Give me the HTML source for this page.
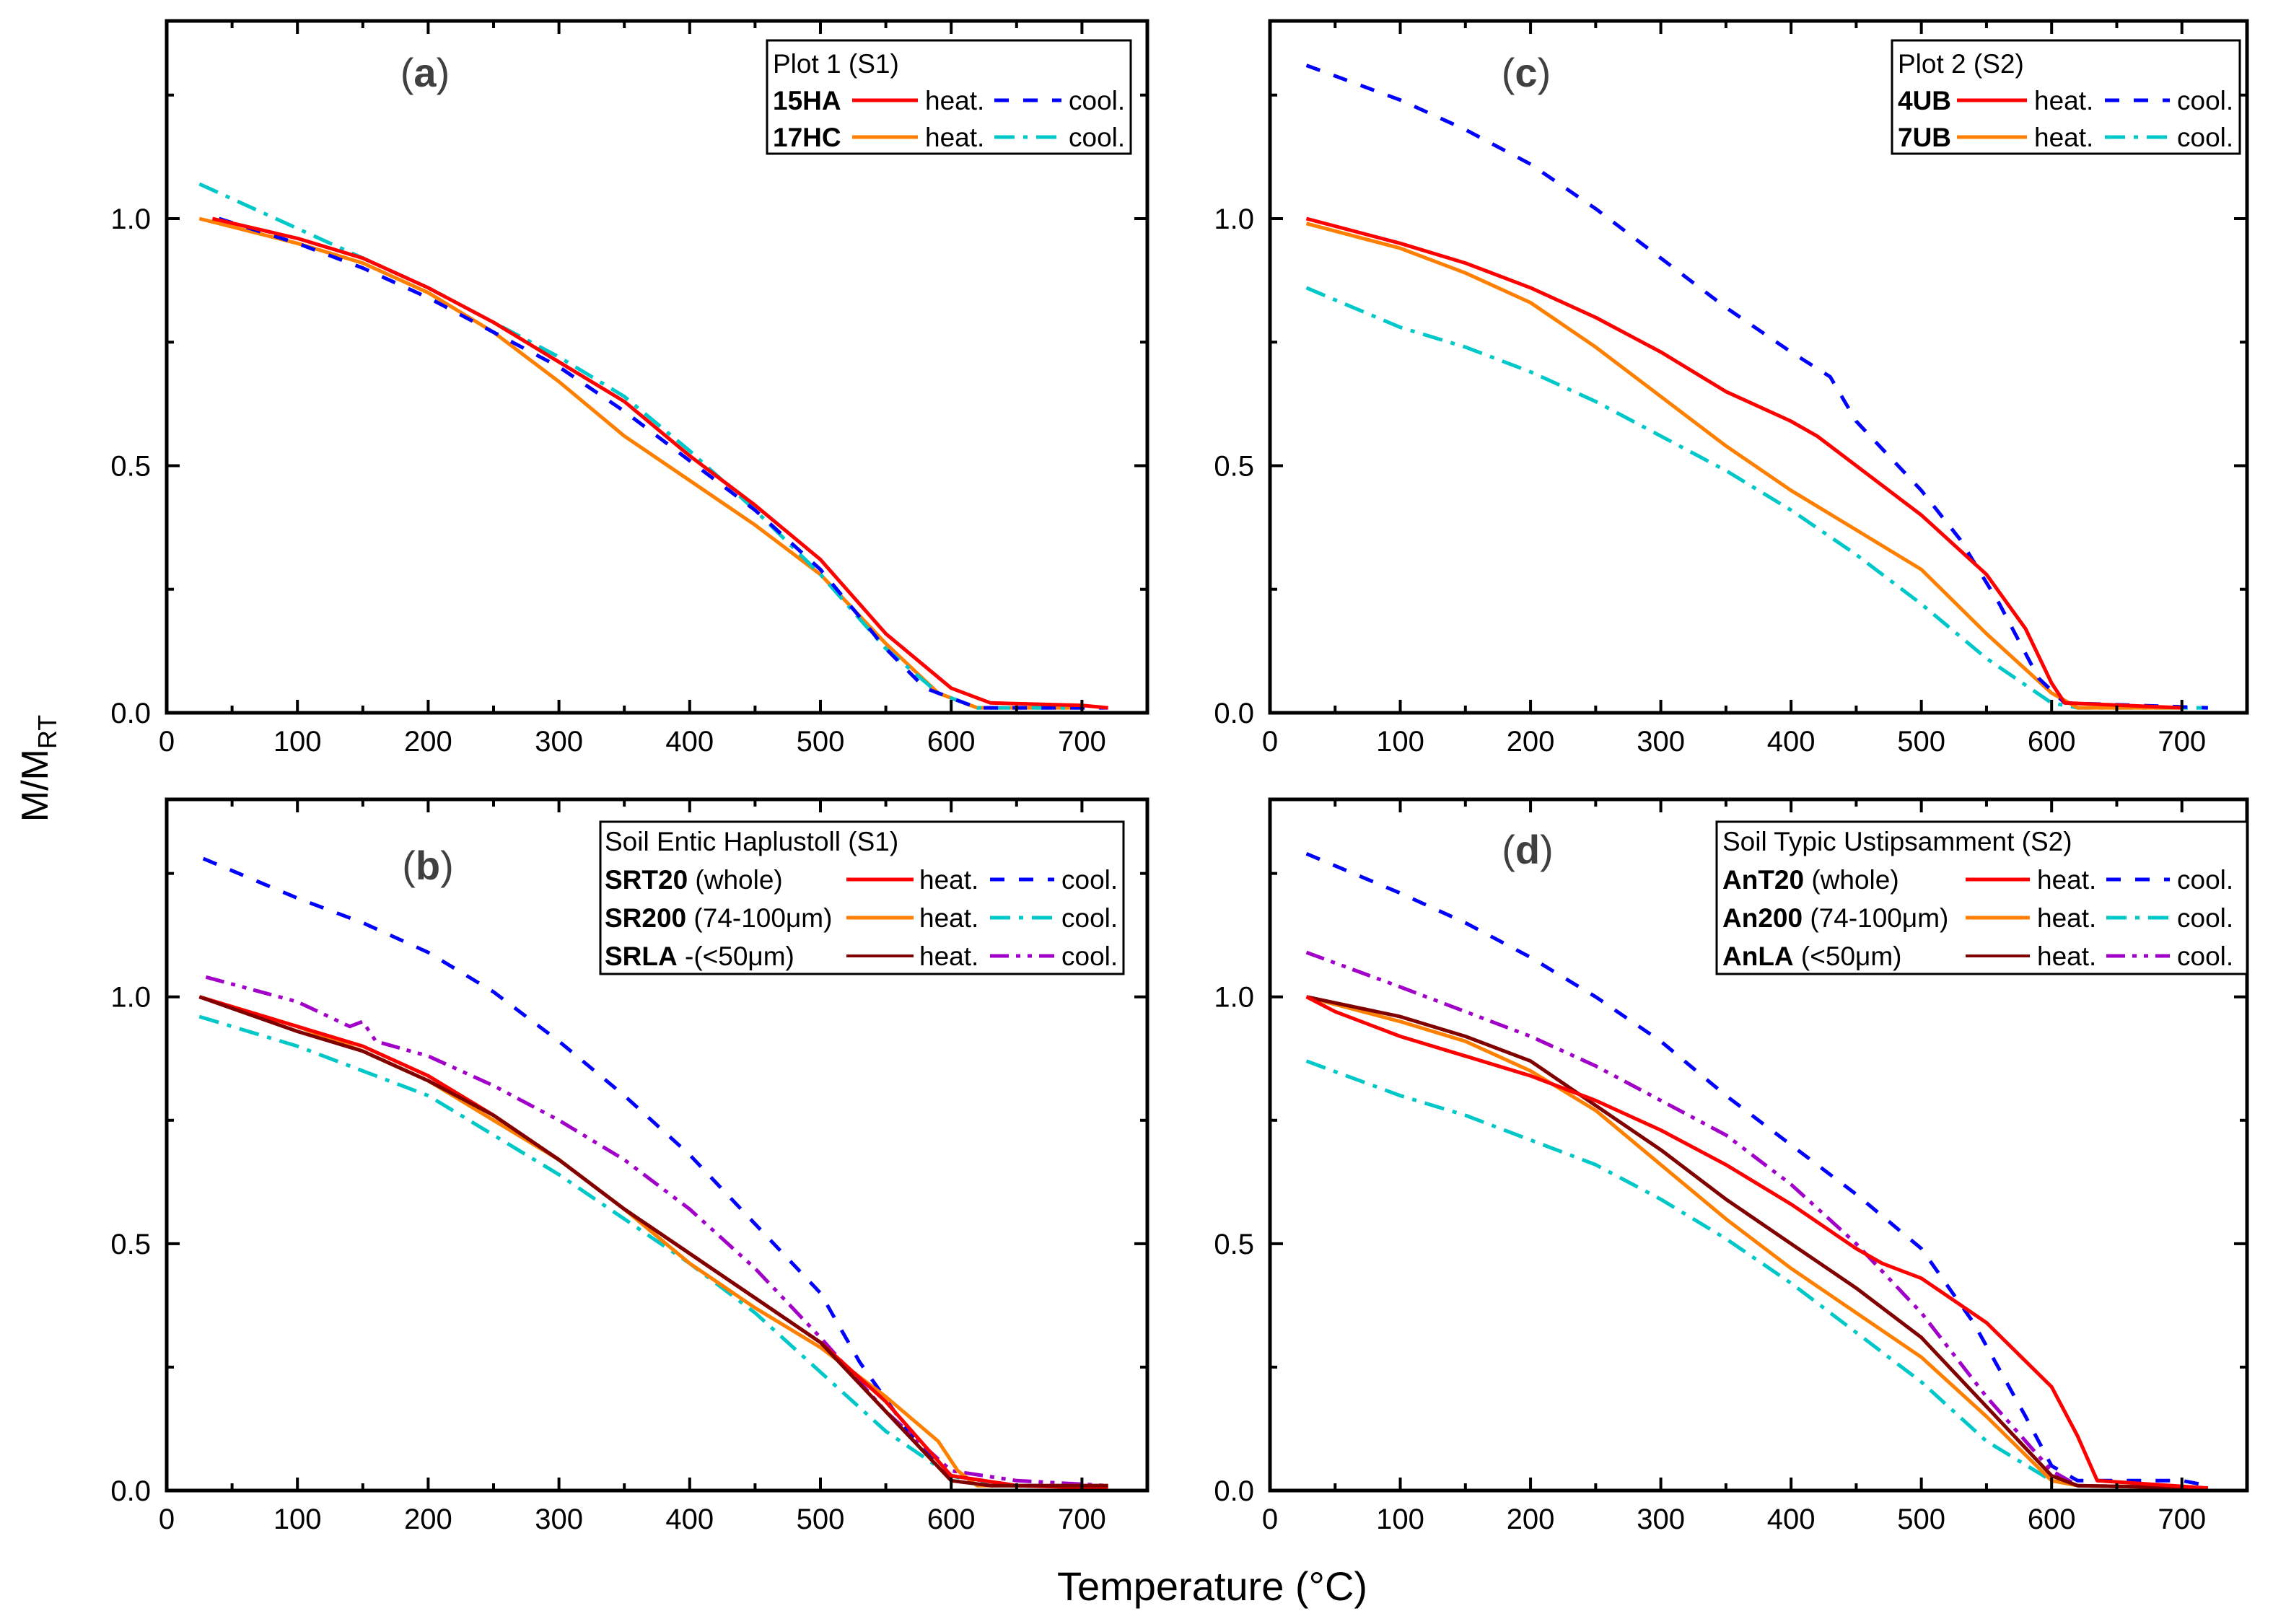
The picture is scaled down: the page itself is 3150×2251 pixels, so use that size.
<!DOCTYPE html>
<html><head><meta charset="utf-8"><style>
html,body{margin:0;padding:0;background:#fff;}
svg{display:block;font-family:"Liberation Sans",sans-serif;}
</style></head><body>
<svg id="chart" width="3150" height="2251" viewBox="0 0 3150 2251" xmlns="http://www.w3.org/2000/svg"></svg>
<script>
// ---- data arrays: [temperature °C, M/M_RT] ----
const xTicks = [0,100,200,300,400,500,600,700];
const yTicks = [0.0,0.5,1.0];
const yTickLabels = ["0.0","0.5","1.0"];
// panel a
const a15HAheat = [[35,1.0],[100,0.96],[150,0.92],[200,0.86],[250,0.79],[300,0.71],[350,0.63],[400,0.52],[450,0.42],[500,0.31],[550,0.16],[600,0.05],[630,0.02],[700,0.015],[720,0.01]];
const a15HAcool = [[40,1.0],[100,0.95],[150,0.90],[200,0.84],[250,0.77],[300,0.70],[350,0.61],[400,0.51],[450,0.41],[500,0.29],[550,0.13],[580,0.05],[620,0.01],[720,0.01]];
const a17HCheat = [[25,1.0],[100,0.95],[150,0.91],[200,0.85],[250,0.77],[300,0.67],[350,0.56],[400,0.47],[450,0.38],[500,0.28],[550,0.14],[590,0.04],[620,0.01],[700,0.01]];
const a17HCcool = [[25,1.07],[100,0.98],[150,0.92],[200,0.86],[250,0.79],[300,0.72],[350,0.64],[400,0.53],[450,0.41],[500,0.28],[550,0.13],[590,0.04],[620,0.01],[700,0.01]];
// panel c
const c4UBheat = [[28,1.0],[100,0.95],[150,0.91],[200,0.86],[250,0.80],[300,0.73],[350,0.65],[400,0.59],[420,0.56],[450,0.50],[500,0.40],[550,0.28],[580,0.17],[600,0.06],[610,0.02],[700,0.01]];
const c4UBcool = [[28,1.31],[100,1.24],[150,1.18],[200,1.11],[250,1.02],[300,0.92],[350,0.82],[400,0.73],[430,0.68],[450,0.59],[500,0.45],[530,0.35],[560,0.22],[590,0.07],[610,0.02],[720,0.01]];
const c7UBheat = [[28,0.99],[100,0.94],[150,0.89],[200,0.83],[250,0.74],[300,0.64],[350,0.54],[400,0.45],[450,0.37],[500,0.29],[550,0.16],[600,0.04],[620,0.01],[700,0.01]];
const c7UBcool = [[28,0.86],[100,0.78],[150,0.74],[200,0.69],[250,0.63],[300,0.56],[350,0.49],[400,0.41],[450,0.32],[500,0.22],[550,0.11],[600,0.02],[620,0.01],[720,0.01]];
// panel b
const bSRT20heat = [[25,1.0],[100,0.94],[150,0.90],[200,0.84],[250,0.76],[300,0.67],[350,0.57],[400,0.48],[450,0.39],[500,0.30],[550,0.18],[600,0.03],[650,0.01],[720,0.005]];
const bSRT20cool = [[28,1.28],[100,1.20],[150,1.15],[200,1.09],[250,1.01],[300,0.91],[350,0.80],[400,0.68],[450,0.54],[500,0.40],[530,0.26],[570,0.11],[600,0.03],[650,0.01],[720,0.01]];
const bSR200heat = [[25,1.0],[100,0.94],[150,0.89],[200,0.83],[250,0.75],[300,0.67],[350,0.57],[400,0.46],[450,0.37],[500,0.29],[550,0.19],[590,0.10],[605,0.04],[620,0.01],[720,0.01]];
const bSR200cool = [[25,0.96],[100,0.90],[150,0.85],[200,0.80],[250,0.72],[300,0.64],[350,0.55],[400,0.46],[450,0.36],[500,0.24],[550,0.12],[600,0.03],[630,0.01],[720,0.01]];
const bSRLAheat = [[25,1.0],[100,0.93],[150,0.89],[200,0.83],[250,0.76],[300,0.67],[350,0.57],[400,0.48],[450,0.39],[500,0.30],[550,0.16],[600,0.02],[630,0.01],[720,0.01]];
const bSRLAcool = [[30,1.04],[100,0.99],[140,0.94],[150,0.95],[160,0.91],[200,0.88],[250,0.82],[300,0.75],[350,0.67],[400,0.57],[450,0.45],[500,0.31],[550,0.16],[600,0.04],[650,0.02],[720,0.01]];
// panel d
const dAnT20heat = [[28,1.0],[50,0.97],[100,0.92],[150,0.88],[200,0.84],[250,0.79],[300,0.73],[350,0.66],[400,0.58],[450,0.49],[470,0.46],[500,0.43],[550,0.34],[600,0.21],[620,0.11],[635,0.02],[720,0.005]];
const dAnT20cool = [[28,1.29],[100,1.21],[150,1.15],[200,1.08],[250,1.00],[300,0.91],[350,0.80],[400,0.70],[450,0.60],[500,0.49],[540,0.34],[580,0.15],[600,0.05],[620,0.02],[700,0.02],[720,0.01]];
const dAn200heat = [[28,1.0],[100,0.95],[150,0.91],[200,0.85],[250,0.77],[300,0.66],[350,0.55],[400,0.45],[450,0.36],[500,0.27],[550,0.15],[600,0.02],[620,0.01],[720,0.005]];
const dAn200cool = [[28,0.87],[100,0.80],[150,0.76],[200,0.71],[250,0.66],[300,0.59],[350,0.51],[400,0.42],[450,0.32],[500,0.22],[550,0.10],[600,0.02],[620,0.01],[720,0.005]];
const dAnLAheat = [[28,1.0],[100,0.96],[150,0.92],[200,0.87],[250,0.78],[300,0.69],[350,0.59],[400,0.50],[450,0.41],[500,0.31],[550,0.17],[600,0.03],[620,0.01],[720,0.005]];
const dAnLAcool = [[28,1.09],[100,1.02],[150,0.97],[200,0.92],[250,0.86],[300,0.79],[350,0.72],[400,0.62],[450,0.50],[500,0.36],[550,0.19],[600,0.04],[620,0.01],[720,0.005]];

const NS="http://www.w3.org/2000/svg";
const svg=document.getElementById('chart');
function mk(tag,attrs,parent){const e=document.createElementNS(NS,tag);for(const k in attrs)e.setAttribute(k,attrs[k]);(parent||svg).appendChild(e);return e;}

const RED="#ff0000",BLUE="#0000ff",ORANGE="#ff8000",CYAN="#00c8c8",DRED="#800000",PURP="#a000c8";
const DASH="20 20",DASHDOT="28 12 6 12",DDD="26 10 6 10 6 10";

const panels=[
 {id:'a',x0:231,x1:1590,y0:29,y1:988,label:'(a)',lx:589,ly:120,
  series:[[a17HCheat,ORANGE,null],[a17HCcool,CYAN,DASHDOT],[a15HAcool,BLUE,DASH],[a15HAheat,RED,null]],
  legend:{bx:1063,by:56,bw:504,bh:157,title:'Plot 1 (S1)',rows:[['15HA','',RED,BLUE,DASH],['17HC','',ORANGE,CYAN,DASHDOT]],
   nx:1071,ty:88,dy:51,l1:[1181,1272],hx:1282,l2:[1378,1471],cx:1481}},
 {id:'c',x0:1760,x1:3114,y0:29,y1:988,label:'(c)',lx:2115,ly:120,
  series:[[c7UBcool,CYAN,DASHDOT],[c7UBheat,ORANGE,null],[c4UBcool,BLUE,DASH],[c4UBheat,RED,null]],
  legend:{bx:2622,by:56,bw:482,bh:157,title:'Plot 2 (S2)',rows:[['4UB','',RED,BLUE,DASH],['7UB','',ORANGE,CYAN,DASHDOT]],
   nx:2630,ty:88,dy:51,l1:[2712,2809],hx:2819,l2:[2917,3007],cx:3017}},
 {id:'b',x0:231,x1:1590,y0:1108,y1:2066,label:'(b)',lx:593,ly:1219,
  series:[[bSR200cool,CYAN,DASHDOT],[bSRT20cool,BLUE,DASH],[bSRLAcool,PURP,DDD],[bSR200heat,ORANGE,null],[bSRT20heat,RED,null],[bSRLAheat,DRED,null]],
  legend:{bx:832,by:1139,bw:725,bh:211,title:'Soil Entic Haplustoll (S1)',rows:[['SRT20',' (whole)',RED,BLUE,DASH],['SR200',' (74-100\u03bcm)',ORANGE,CYAN,DASHDOT],['SRLA',' -(<50\u03bcm)',DRED,PURP,DDD]],
   nx:838,ty:1166,dy:53,l1:[1173,1266],hx:1274,l2:[1372,1461],cx:1471}},
 {id:'d',x0:1760,x1:3114,y0:1108,y1:2066,label:'(d)',lx:2117,ly:1197,
  series:[[dAn200cool,CYAN,DASHDOT],[dAnT20cool,BLUE,DASH],[dAnLAcool,PURP,DDD],[dAn200heat,ORANGE,null],[dAnLAheat,DRED,null],[dAnT20heat,RED,null]],
  legend:{bx:2379,by:1139,bw:735,bh:211,title:'Soil Typic Ustipsamment (S2)',rows:[['AnT20',' (whole)',RED,BLUE,DASH],['An200',' (74-100\u03bcm)',ORANGE,CYAN,DASHDOT],['AnLA',' (<50\u03bcm)',DRED,PURP,DDD]],
   nx:2387,ty:1166,dy:53,l1:[2724,2813],hx:2823,l2:[2919,3007],cx:3017}}
];

panels.forEach(p=>{
  const g=mk('g',{});
  
  
  const sx=v=>p.x0+(v/750)*(p.x1-p.x0);
  const sy=v=>p.y1-(v/1.4)*(p.y1-p.y0);
  // series
  p.series.forEach((s,i)=>{
    const d=s[0].map((pt,j)=>(j?'L':'M')+sx(pt[0]).toFixed(1)+' '+sy(pt[1]).toFixed(1)).join(' ');
    const path=mk('path',{d:d,fill:'none',stroke:s[1],'stroke-width':5,'stroke-linejoin':'round'},g);
    if(s[2])path.setAttribute('stroke-dasharray',s[2]);
    
    
  });
  // frame
  const fr=mk('rect',{x:p.x0,y:p.y0,width:p.x1-p.x0,height:p.y1-p.y0,fill:'none',stroke:'#000','stroke-width':5},g);
  
  
  // x ticks
  for(let v=0;v<=750;v+=50){
    const X=sx(v),L=(v%100===0)?18:10;
    mk('line',{x1:X,y1:p.y1,x2:X,y2:p.y1-L,stroke:'#000','stroke-width':4},g);
    mk('line',{x1:X,y1:p.y0,x2:X,y2:p.y0+L,stroke:'#000','stroke-width':4},g);
  }
  xTicks.forEach(v=>{
    const t=mk('text',{x:sx(v),y:p.y1+53,'font-size':40,'text-anchor':'middle'},g);
    t.textContent=String(v);
    
    
  });
  for(let v=0;v<=1.4001;v+=0.25){
    const Y=sy(v),L=(Math.abs(v*2-Math.round(v*2))<1e-6)?18:10;
    mk('line',{x1:p.x0,y1:Y,x2:p.x0+L,y2:Y,stroke:'#000','stroke-width':4},g);
    mk('line',{x1:p.x1,y1:Y,x2:p.x1-L,y2:Y,stroke:'#000','stroke-width':4},g);
  }
  yTicks.forEach((v,i)=>{
    const t=mk('text',{x:p.x0-22,y:sy(v)+14,'font-size':40,'text-anchor':'end'},g);
    t.textContent=yTickLabels[i];
    
    
  });
  // panel label
  const pl=mk('text',{x:p.lx,y:p.ly,'font-size':56,'text-anchor':'middle',fill:'#404040'},g);
  pl.innerHTML='(<tspan font-weight="bold">'+p.id+'</tspan>)';
  
  
  // legend
  const L=p.legend;
  const lg=mk('g',{},g);
  
  
  mk('rect',{x:L.bx,y:L.by,width:L.bw,height:L.bh,fill:'#fff',stroke:'#000','stroke-width':3},lg);
  const tt=mk('text',{x:L.nx,y:L.ty+13,'font-size':37},lg);
  tt.textContent=L.title;
  L.rows.forEach((r,i)=>{
    const cy=L.ty+L.dy*(i+1);
    const re=mk('g',{},lg);
    
    
    const nt=mk('text',{x:L.nx,y:cy+13,'font-size':37},re);
    const b=document.createElementNS(NS,'tspan');b.setAttribute('font-weight','bold');b.textContent=r[0];nt.appendChild(b);
    if(r[1]){const s=document.createElementNS(NS,'tspan');s.textContent=r[1];nt.appendChild(s);}
    mk('line',{x1:L.l1[0],y1:cy,x2:L.l1[1],y2:cy,stroke:r[2],'stroke-width':(r[2]===DRED?4:5)},re);
    const h=mk('text',{x:L.hx,y:cy+13,'font-size':37},re);h.textContent='heat.';
    mk('line',{x1:L.l2[0],y1:cy,x2:L.l2[1],y2:cy,stroke:r[3],'stroke-width':5,'stroke-dasharray':r[4]},re);
    const c=mk('text',{x:L.cx,y:cy+13,'font-size':37},re);c.textContent='cool.';
  });
  svg.appendChild(g);
});

// axis titles
const yt=mk('text',{x:0,y:0,'font-size':52,'text-anchor':'middle',transform:'translate(66,1065) rotate(-90)'});
yt.innerHTML='M/M<tspan font-size="36" dy="12">RT</tspan>';


const xt=mk('text',{x:1680,y:2218,'font-size':56,'text-anchor':'middle'});
xt.textContent='Temperature (\u00b0C)';


</script>
</body></html>
